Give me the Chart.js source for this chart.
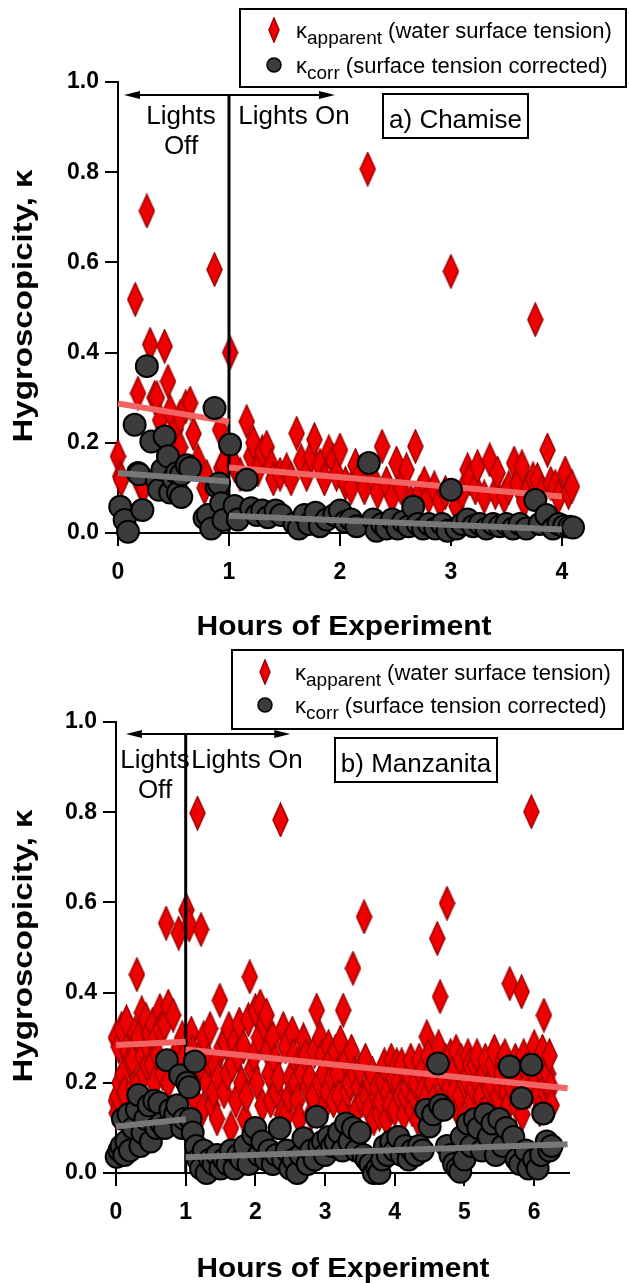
<!DOCTYPE html>
<html>
<head>
<meta charset="utf-8">
<title>Hygroscopicity during chamber experiments</title>
<script src="https://cdn.jsdelivr.net/npm/chart.js@4.4.1/dist/chart.umd.min.js"></script>
<style>
  body { margin: 0; background: #fff; }
  canvas { display: block; }
</style>
</head>
<body>
<canvas id="chamiseChart" width="629" height="640"></canvas>
<canvas id="manzanitaChart" width="629" height="643"></canvas>
<script>
// ---- data: [hours, kappa] ----
// a) Chamise, kappa apparent (water surface tension)
const chamiseApparent = [
  [0.00,0.17],[0.02,0.125],[0.03,0.118],[0.155,0.518],[0.18,0.31],[0.20,0.11],[0.23,0.10],[0.26,0.714],
  [0.29,0.418],[0.33,0.30],[0.35,0.30],[0.38,0.25],[0.42,0.414],[0.45,0.336],[0.47,0.27],[0.52,0.23],
  [0.56,0.258],[0.56,0.19],[0.61,0.28],[0.65,0.288],[0.68,0.22],[0.72,0.16],[0.78,0.10],[0.80,0.125],
  [0.87,0.584],[0.92,0.229],[0.93,0.144],[0.95,0.15],
  [1.01,0.40],[1.05,0.15],[1.10,0.13],[1.16,0.247],[1.20,0.17],[1.22,0.20],[1.26,0.14],[1.30,0.18],
  [1.34,0.19],[1.38,0.15],[1.40,0.12],[1.46,0.13],[1.52,0.14],[1.56,0.12],[1.61,0.221],[1.65,0.16],
  [1.70,0.13],[1.74,0.17],[1.77,0.207],[1.82,0.15],[1.86,0.12],[1.90,0.18],[1.94,0.16],[1.97,0.13],
  [2.00,0.184],[2.05,0.11],[2.10,0.10],[2.14,0.15],[2.18,0.129],[2.22,0.10],[2.25,0.807],[2.30,0.12],
  [2.34,0.09],[2.38,0.192],[2.42,0.11],[2.47,0.08],[2.51,0.155],[2.55,0.10],[2.60,0.14],[2.64,0.07],
  [2.68,0.192],[2.72,0.09],[2.76,0.11],[2.80,0.08],[2.85,0.10],[2.90,0.07],[2.95,0.09],[3.00,0.58],
  [3.05,0.06],[3.10,0.09],[3.15,0.14],[3.17,0.12],[3.22,0.10],[3.24,0.147],[3.30,0.08],[3.35,0.162],
  [3.40,0.09],[3.42,0.133],[3.48,0.08],[3.52,0.10],[3.57,0.155],[3.60,0.11],[3.64,0.147],[3.66,0.07],
  [3.70,0.10],[3.74,0.12],[3.76,0.473],[3.78,0.118],[3.82,0.09],[3.87,0.184],[3.90,0.11],[3.94,0.103],
  [3.97,0.08],[4.03,0.133],[4.06,0.09],[4.09,0.103]
];
// a) Chamise, kappa corrected for surface tension
const chamiseCorrected = [
  [0.02,0.058],[0.06,0.029],[0.09,0.003],[0.15,0.24],[0.18,0.133],[0.19,0.13],[0.22,0.051],[0.26,0.37],
  [0.30,0.203],[0.35,0.118],[0.37,0.096],[0.40,0.14],[0.42,0.214],[0.45,0.17],[0.47,0.09],[0.50,0.12],
  [0.53,0.133],[0.54,0.089],[0.57,0.13],[0.57,0.08],[0.62,0.15],[0.65,0.144],[0.78,0.033],[0.81,0.04],
  [0.84,0.01],[0.87,0.277],[0.89,0.103],[0.91,0.11],[0.93,0.066],[0.95,0.029],
  [1.01,0.196],[1.05,0.06],[1.08,0.03],[1.16,0.118],[1.20,0.055],[1.25,0.04],[1.30,0.05],[1.35,0.035],
  [1.42,0.05],[1.47,0.04],[1.59,0.021],[1.63,0.01],[1.68,0.04],[1.72,0.02],[1.78,0.045],[1.82,0.015],
  [1.88,0.03],[1.95,0.04],[2.00,0.05],[2.05,0.025],[2.10,0.03],[2.15,0.015],[2.26,0.155],[2.30,0.03],
  [2.33,0.005],[2.38,0.02],[2.42,0.01],[2.47,0.03],[2.52,0.01],[2.57,0.025],[2.62,0.015],[2.66,0.058],
  [2.70,0.02],[2.75,0.01],[2.80,0.02],[2.86,0.01],[2.92,0.02],[2.97,0.005],[3.00,0.096],[3.05,0.01],
  [3.10,0.02],[3.15,0.03],[3.20,0.015],[3.26,0.02],[3.32,0.01],[3.38,0.02],[3.44,0.015],[3.50,0.02],
  [3.56,0.01],[3.62,0.02],[3.68,0.01],[3.76,0.073],[3.80,0.02],[3.86,0.04],[3.92,0.01],[3.97,0.02],
  [4.02,0.015],[4.07,0.014],[4.10,0.012]
];
// b) Manzanita, kappa apparent
const manzanitaApparent = [
  [0.00,0.30],[0.00,0.16],[0.01,0.133],[0.02,0.17],[0.04,0.28],[0.05,0.20],[0.08,0.32],[0.10,0.22],
  [0.12,0.18],[0.15,0.335],[0.17,0.27],[0.20,0.25],[0.24,0.25],[0.25,0.19],[0.27,0.31],[0.30,0.44],
  [0.32,0.30],[0.33,0.20],[0.37,0.355],[0.38,0.26],[0.40,0.22],[0.43,0.34],[0.45,0.24],[0.46,0.28],
  [0.48,0.31],[0.51,0.24],[0.53,0.33],[0.55,0.20],[0.57,0.30],[0.60,0.26],[0.63,0.36],[0.64,0.32],
  [0.67,0.22],[0.70,0.33],[0.72,0.554],[0.75,0.37],[0.75,0.20],[0.82,0.35],[0.87,0.25],[0.88,0.27],
  [0.90,0.532],[0.92,0.28],[0.95,0.30],[0.96,0.25],[0.98,0.20],
  [1.01,0.583],[1.03,0.22],[1.05,0.55],[1.08,0.31],[1.10,0.27],[1.12,0.20],[1.14,0.16],[1.17,0.798],
  [1.20,0.26],[1.22,0.54],[1.24,0.14],[1.26,0.30],[1.28,0.22],[1.30,0.20],[1.33,0.25],[1.35,0.32],
  [1.38,0.15],[1.40,0.18],[1.42,0.24],[1.45,0.12],[1.47,0.21],[1.49,0.383],[1.52,0.28],[1.55,0.18],
  [1.57,0.29],[1.60,0.22],[1.62,0.32],[1.65,0.10],[1.67,0.24],[1.70,0.29],[1.72,0.16],[1.75,0.26],
  [1.77,0.33],[1.80,0.20],[1.83,0.28],[1.85,0.12],[1.87,0.17],[1.90,0.34],[1.92,0.435],[1.95,0.23],
  [1.98,0.26],[2.00,0.36],[2.02,0.20],[2.05,0.30],[2.07,0.37],[2.10,0.15],[2.12,0.33],[2.16,0.35],
  [2.18,0.27],[2.20,0.22],[2.22,0.16],[2.25,0.30],[2.28,0.25],[2.30,0.18],[2.33,0.21],[2.36,0.783],
  [2.38,0.13],[2.40,0.32],[2.43,0.28],[2.45,0.13],[2.48,0.17],[2.50,0.21],[2.53,0.31],[2.55,0.26],
  [2.58,0.20],[2.60,0.16],[2.63,0.12],[2.65,0.25],[2.67,0.22],[2.69,0.295],[2.72,0.26],[2.75,0.19],
  [2.78,0.21],[2.80,0.13],[2.83,0.17],[2.85,0.27],[2.88,0.361],[2.92,0.20],[2.93,0.30],[2.96,0.26],
  [2.98,0.22],[3.00,0.15],[3.03,0.18],[3.05,0.28],[3.08,0.25],[3.10,0.21],[3.12,0.16],[3.15,0.27],
  [3.18,0.22],[3.20,0.17],[3.22,0.29],[3.26,0.361],[3.28,0.14],[3.30,0.25],[3.32,0.18],[3.35,0.20],
  [3.38,0.27],[3.40,0.454],[3.42,0.22],[3.45,0.14],[3.48,0.19],[3.50,0.23],[3.53,0.16],[3.56,0.568],
  [3.58,0.25],[3.60,0.17],[3.63,0.14],[3.65,0.20],[3.68,0.22],[3.70,0.12],[3.73,0.17],[3.75,0.19],
  [3.78,0.13],[3.80,0.16],[3.83,0.20],[3.85,0.24],[3.88,0.12],[3.90,0.18],[3.93,0.15],[3.95,0.25],
  [3.98,0.21],[4.00,0.14],[4.03,0.24],[4.05,0.20],[4.08,0.17],[4.10,0.24],[4.13,0.13],[4.15,0.17],
  [4.18,0.19],[4.20,0.22],[4.23,0.25],[4.25,0.14],[4.28,0.17],[4.30,0.20],[4.33,0.12],[4.35,0.25],
  [4.38,0.22],[4.40,0.18],[4.43,0.16],[4.46,0.302],[4.48,0.26],[4.50,0.22],[4.53,0.20],[4.55,0.16],
  [4.58,0.13],[4.61,0.52],[4.63,0.28],[4.65,0.391],[4.68,0.17],[4.70,0.21],[4.73,0.25],[4.75,0.598],
  [4.78,0.19],[4.80,0.26],[4.83,0.22],[4.85,0.18],[4.88,0.27],[4.90,0.14],[4.93,0.17],[4.95,0.25],
  [4.98,0.12],[5.00,0.20],[5.03,0.21],[5.05,0.26],[5.08,0.24],[5.10,0.16],[5.13,0.19],[5.15,0.24],
  [5.18,0.26],[5.20,0.20],[5.23,0.17],[5.25,0.13],[5.28,0.22],[5.30,0.25],[5.33,0.15],[5.35,0.19],
  [5.38,0.20],[5.40,0.24],[5.43,0.27],[5.45,0.15],[5.48,0.17],[5.50,0.20],[5.53,0.22],[5.55,0.25],
  [5.58,0.26],[5.60,0.18],[5.63,0.15],[5.65,0.42],[5.68,0.19],[5.70,0.22],[5.73,0.25],[5.75,0.15],
  [5.78,0.21],[5.82,0.402],[5.83,0.13],[5.85,0.26],[5.88,0.23],[5.90,0.20],[5.93,0.18],[5.96,0.801],
  [5.98,0.25],[6.00,0.28],[6.03,0.21],[6.05,0.17],[6.08,0.14],[6.10,0.23],[6.12,0.27],[6.14,0.35],
  [6.16,0.18],[6.18,0.20],[6.20,0.22],[6.22,0.26],[6.24,0.19],[6.25,0.15]
];
// b) Manzanita, kappa corrected
const manzanitaCorrected = [
  [0.01,0.036],[0.05,0.05],[0.08,0.06],[0.10,0.12],[0.12,0.04],[0.15,0.07],[0.18,0.13],[0.20,0.05],
  [0.25,0.10],[0.30,0.14],[0.32,0.173],[0.35,0.06],[0.38,0.09],[0.42,0.12],[0.47,0.15],[0.50,0.07],
  [0.55,0.16],[0.58,0.10],[0.62,0.155],[0.65,0.11],[0.70,0.10],[0.73,0.25],[0.78,0.14],[0.85,0.13],
  [0.88,0.15],[0.92,0.217],[0.95,0.10],[0.98,0.12],
  [1.02,0.20],[1.05,0.19],[1.07,0.12],[1.10,0.09],[1.13,0.247],[1.15,0.06],[1.18,0.03],[1.22,0.01],
  [1.26,0.05],[1.30,0.00],[1.35,0.03],[1.40,0.02],[1.45,0.04],[1.50,0.01],[1.55,0.03],[1.60,0.02],
  [1.65,0.05],[1.70,0.01],[1.75,0.04],[1.80,0.03],[1.85,0.06],[1.90,0.02],[1.97,0.085],[2.00,0.10],
  [2.05,0.04],[2.10,0.07],[2.15,0.03],[2.20,0.05],[2.25,0.02],[2.30,0.04],[2.35,0.099],[2.40,0.03],
  [2.45,0.05],[2.50,0.01],[2.55,0.03],[2.60,0.00],[2.65,0.04],[2.69,0.077],[2.75,0.02],[2.80,0.05],
  [2.85,0.03],[2.88,0.125],[2.92,0.06],[2.97,0.07],[3.00,0.04],[3.05,0.08],[3.10,0.06],[3.15,0.07],
  [3.20,0.09],[3.25,0.05],[3.30,0.11],[3.35,0.07],[3.40,0.10],[3.45,0.05],[3.50,0.09],[3.55,0.04],
  [3.60,0.03],[3.65,0.02],[3.70,0.00],[3.75,0.01],[3.78,0.00],[3.82,0.03],[3.86,0.06],[3.90,0.04],
  [3.95,0.07],[4.00,0.05],[4.05,0.08],[4.10,0.04],[4.15,0.06],[4.20,0.03],[4.25,0.05],[4.30,0.04],
  [4.35,0.06],[4.40,0.05],[4.45,0.14],[4.50,0.103],[4.55,0.13],[4.62,0.243],[4.65,0.15],[4.70,0.14],
  [4.75,0.06],[4.80,0.04],[4.85,0.02],[4.90,0.01],[4.94,0.003],[4.96,0.08],[5.00,0.03],[5.05,0.11],
  [5.10,0.06],[5.15,0.12],[5.20,0.10],[5.25,0.05],[5.30,0.13],[5.35,0.08],[5.40,0.11],[5.45,0.04],
  [5.50,0.12],[5.55,0.06],[5.60,0.10],[5.65,0.236],[5.70,0.08],[5.75,0.03],[5.80,0.02],[5.82,0.166],
  [5.88,0.05],[5.92,0.01],[5.96,0.24],[6.00,0.03],[6.05,0.01],[6.10,0.04],[6.13,0.132],[6.18,0.07],
  [6.22,0.05],[6.25,0.06]
];

// linear fits, [startHour, startKappa, endHour, endKappa] for lights off / lights on
const chamiseFitApparent = [[0, 0.287, 1, 0.247], [1, 0.145, 4, 0.081]];
const chamiseFitCorrected = [[0, 0.133, 1, 0.114], [1, 0.038, 4, 0.008]];
const manzanitaFitApparent = [[0, 0.284, 1, 0.291], [1, 0.274, 6.48, 0.188]];
const manzanitaFitCorrected = [[0, 0.103, 1, 0.119], [1, 0.035, 6.48, 0.064]];

// axis ticks
const kappaTicks = [0, 0.2, 0.4, 0.6, 0.8, 1.0];
const kappaTickLabels = ['0.0', '0.2', '0.4', '0.6', '0.8', '1.0'];
const chamiseHourTicks = [0, 1, 2, 3, 4];
const manzanitaHourTicks = [0, 1, 2, 3, 4, 5, 6];
const lightsOnHour = 1;

const FONT = "'Liberation Sans', Arial, Helvetica, sans-serif";

// tall narrow diamond used as the point style for kappa apparent
function makeDiamond(w, h) {
  const c = document.createElement('canvas');
  c.width = w;
  c.height = h;
  const g = c.getContext('2d');
  g.beginPath();
  g.moveTo(w / 2, 1);
  g.lineTo(w - 1, h / 2);
  g.lineTo(w / 2, h - 1);
  g.lineTo(1, h / 2);
  g.closePath();
  g.fillStyle = '#ee0000';
  g.fill();
  g.lineWidth = 1.5;
  g.strokeStyle = '#a00000';
  g.stroke();
  return c;
}
const diamond = makeDiamond(17, 35);
const legendDiamond = makeDiamond(12, 26);

function toXY(points) {
  return points.map(p => ({ x: p[0], y: p[1] }));
}

function fitSet(seg, color) {
  return {
    data: [{ x: seg[0], y: seg[1] }, { x: seg[2], y: seg[3] }],
    showLine: true,
    borderColor: color,
    borderWidth: 6,
    borderCapStyle: 'butt',
    pointRadius: 0,
    clip: false
  };
}

// text stretched to a set length, optionally rotated
function stretchedText(ctx, text, x, y, length, font, angle) {
  ctx.save();
  ctx.font = font;
  ctx.translate(x, y);
  ctx.rotate(angle || 0);
  const w = ctx.measureText(text).width;
  ctx.scale(length / w, 1);
  ctx.textAlign = 'center';
  ctx.textBaseline = 'alphabetic';
  ctx.fillText(text, 0, 0);
  ctx.restore();
}

function kappaLabel(ctx, x, y, sub, rest) {
  ctx.textAlign = 'left';
  ctx.textBaseline = 'alphabetic';
  ctx.font = `22px ${FONT}`;
  ctx.fillText('κ', x, y);
  let cx = x + ctx.measureText('κ').width;
  ctx.font = `19px ${FONT}`;
  ctx.fillText(sub, cx, y + 6);
  cx += ctx.measureText(sub).width;
  ctx.font = `22px ${FONT}`;
  ctx.fillText(rest, cx, y);
}

function arrowHead(ctx, x, y, dir) {
  ctx.beginPath();
  ctx.moveTo(x, y);
  ctx.lineTo(x - dir * 16, y - 4);
  ctx.lineTo(x - dir * 16, y + 4);
  ctx.closePath();
  ctx.fill();
}

// lights on/off marker, legend, labels and axis titles
const panelDecor = {
  id: 'panelDecor',
  afterDatasetDraw(chart, args, o) {
    if (args.index !== 0) return;
    const ctx = chart.ctx;
    const xs = chart.scales.x;
    const x1 = xs.getPixelForValue(lightsOnHour);
    ctx.save();
    ctx.strokeStyle = '#000';
    ctx.fillStyle = '#000';
    ctx.lineWidth = 3;
    ctx.beginPath();
    ctx.moveTo(x1, o.arrowY);
    ctx.lineTo(x1, chart.chartArea.bottom);
    ctx.stroke();
    const a = xs.getPixelForValue(o.arrowFrom);
    const b = xs.getPixelForValue(o.arrowTo);
    ctx.lineWidth = 2;
    ctx.beginPath();
    ctx.moveTo(a + 10, o.arrowY);
    ctx.lineTo(b - 10, o.arrowY);
    ctx.stroke();
    arrowHead(ctx, a, o.arrowY, -1);
    arrowHead(ctx, b, o.arrowY, 1);
    ctx.restore();
  },
  afterDraw(chart, args, o) {
    const ctx = chart.ctx;
    ctx.save();
    ctx.fillStyle = '#000';
    ctx.strokeStyle = '#000';

    // legend
    const lg = o.legend;
    ctx.lineWidth = 2;
    ctx.strokeRect(lg.left, lg.top, lg.right - lg.left, lg.bottom - lg.top);
    ctx.drawImage(legendDiamond, lg.markerX - legendDiamond.width / 2, lg.rowY[0] - legendDiamond.height / 2);
    ctx.beginPath();
    ctx.arc(lg.markerX, lg.rowY[1], 7, 0, Math.PI * 2);
    ctx.fillStyle = '#3c3c3c';
    ctx.fill();
    ctx.lineWidth = 1.5;
    ctx.stroke();
    ctx.fillStyle = '#000';
    kappaLabel(ctx, lg.textX, lg.rowY[0] + 8, 'apparent', ' (water surface tension)');
    kappaLabel(ctx, lg.textX, lg.rowY[1] + 8, 'corr', ' (surface tension corrected)');

    // lights labels
    ctx.font = `26px ${FONT}`;
    ctx.textAlign = 'center';
    ctx.textBaseline = 'alphabetic';
    ctx.fillText('Lights', o.offX, o.labelY);
    ctx.fillText('Off', o.offX, o.labelY + 30);
    ctx.fillText('Lights On', o.onX, o.labelY);

    // panel name box
    const nb = o.nameBox;
    ctx.lineWidth = 2;
    ctx.strokeRect(nb.left, nb.top, nb.right - nb.left, nb.bottom - nb.top);
    ctx.fillText(o.name, (nb.left + nb.right) / 2, nb.bottom - 10);

    // axis titles
    stretchedText(ctx, 'Hours of Experiment', o.xTitle.x, o.xTitle.y, o.xTitle.len, `bold 28px ${FONT}`);
    stretchedText(ctx, 'Hygroscopicity, κ', o.yTitle.x, o.yTitle.y, o.yTitle.len, `bold 27px ${FONT}`, -Math.PI / 2);
    ctx.restore();
  }
};

function buildPanel(canvasId, p) {
  const tickFont = { family: FONT, size: 23, weight: 'bold' };
  const axisGrid = { display: true, drawOnChartArea: false, drawTicks: true, tickLength: 13, color: '#000', lineWidth: 2 };
  return new Chart(document.getElementById(canvasId), {
    type: 'scatter',
    data: {
      datasets: [
        {
          data: toXY(p.apparent),
          pointStyle: diamond,
          pointRadius: 10,
          clip: false,
          order: 4
        },
        Object.assign(fitSet(p.fitApparent[0], '#f26464'), { order: 3 }),
        Object.assign(fitSet(p.fitApparent[1], '#f26464'), { order: 3 }),
        {
          data: toXY(p.corrected),
          pointStyle: 'circle',
          pointRadius: 11,
          pointBorderWidth: 2,
          pointBackgroundColor: '#3c3c3c',
          pointBorderColor: '#000',
          clip: false,
          order: 2
        },
        Object.assign(fitSet(p.fitCorrected[0], '#787878'), { order: 1 }),
        Object.assign(fitSet(p.fitCorrected[1], '#787878'), { order: 1 })
      ]
    },
    options: {
      responsive: false,
      animation: false,
      devicePixelRatio: 1,
      events: [],
      layout: { padding: { top: 82, right: p.padRight, bottom: 0, left: 0 } },
      scales: {
        x: {
          type: 'linear',
          min: 0,
          max: p.xMax,
          afterBuildTicks: s => { s.ticks = p.hourTicks.map(v => ({ value: v })); },
          afterFit: s => { s.height = p.xAxisHeight; },
          ticks: { font: tickFont, color: '#000', padding: 13, maxRotation: 0, callback: v => String(v) },
          grid: axisGrid,
          border: { display: true, color: '#000', width: 2 }
        },
        y: {
          min: 0,
          max: 1,
          afterBuildTicks: s => { s.ticks = kappaTicks.map(v => ({ value: v })); },
          afterFit: s => { s.width = p.yAxisWidth; },
          ticks: { font: tickFont, color: '#000', padding: 6, callback: (v, i) => kappaTickLabels[i] },
          grid: axisGrid,
          border: { display: true, color: '#000', width: 2 }
        }
      },
      plugins: {
        legend: { display: false },
        tooltip: { enabled: false },
        panelDecor: p.decor
      }
    },
    plugins: [panelDecor]
  });
}

buildPanel('chamiseChart', {
  apparent: chamiseApparent,
  corrected: chamiseCorrected,
  fitApparent: chamiseFitApparent,
  fitCorrected: chamiseFitCorrected,
  hourTicks: chamiseHourTicks,
  xMax: 4.1,
  padRight: 56,
  yAxisWidth: 118,
  xAxisHeight: 107,
  decor: {
    arrowY: 95, arrowFrom: 0.054, arrowTo: 1.955,
    legend: { left: 240, top: 9, right: 626, bottom: 87, markerX: 274, textX: 296, rowY: [30, 65] },
    offX: 181, onX: 294, labelY: 124,
    nameBox: { left: 383, top: 94, right: 528, bottom: 138 },
    name: 'a) Chamise',
    xTitle: { x: 344, y: 635, len: 295 },
    yTitle: { x: 32, y: 306, len: 273 }
  }
});

buildPanel('manzanitaChart', {
  apparent: manzanitaApparent,
  corrected: manzanitaCorrected,
  fitApparent: manzanitaFitApparent,
  fitCorrected: manzanitaFitCorrected,
  hourTicks: manzanitaHourTicks,
  xMax: 6.5,
  padRight: 60,
  yAxisWidth: 116,
  xAxisHeight: 110,
  decor: {
    arrowY: 94, arrowFrom: 0.143, arrowTo: 2.5,
    legend: { left: 232, top: 10, right: 623, bottom: 89, markerX: 265, textX: 295, rowY: [32, 65] },
    offX: 155, onX: 247, labelY: 128,
    nameBox: { left: 335, top: 98, right: 497, bottom: 142 },
    name: 'b) Manzanita',
    xTitle: { x: 343, y: 637, len: 293 },
    yTitle: { x: 32, y: 306, len: 273 }
  }
});
</script>
</body>
</html>
